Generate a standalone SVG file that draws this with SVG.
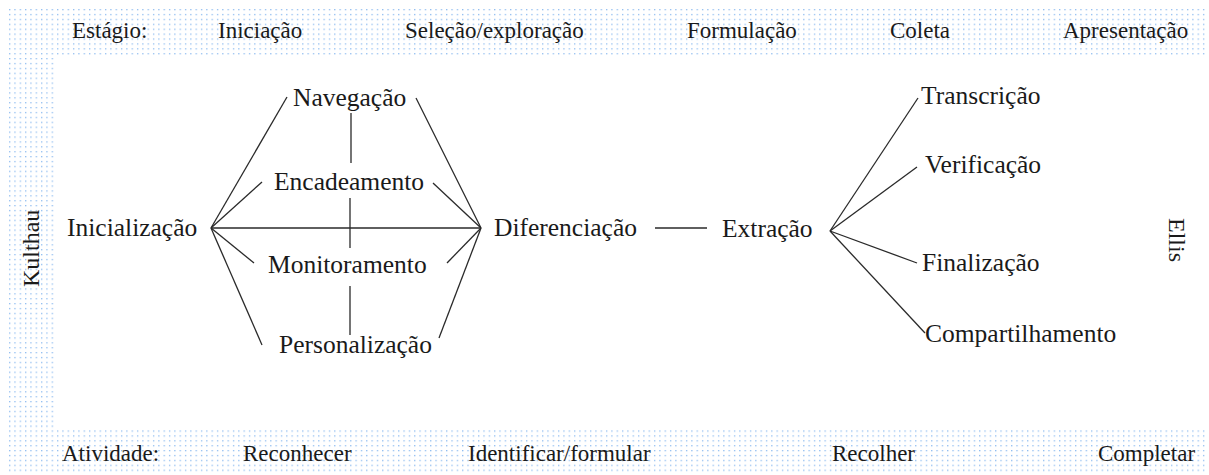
<svg xmlns="http://www.w3.org/2000/svg" width="1209" height="475" viewBox="0 0 1209 475">
<style>
.band{fill:url(#dots)}
.hdr{font-family:"Liberation Serif","Times New Roman",serif;font-size:23px;fill:#1a1a1a}
.lbl{font-family:"Liberation Serif","Times New Roman",serif;font-size:25.5px;fill:#1a1a1a}
.side{font-family:"Liberation Serif","Times New Roman",serif;font-size:24px;fill:#1a1a1a}
.con line{stroke:#2a2a2a;stroke-width:1.3;fill:none}
</style>
<defs>
<pattern id="dots" x="9" y="9" width="5.33" height="4.9" patternUnits="userSpaceOnUse">
<rect x="0" y="0" width="1.3" height="1.3" fill="#5fa0ea" opacity="0.7"/>
</pattern>
</defs>
<rect width="1209" height="475" fill="#ffffff"/>
<g id="frame">
<rect class="band" x="7" y="7" width="1201" height="48"/>
<rect class="band" x="7" y="55" width="47" height="375"/>
<rect class="band" x="7" y="430" width="1201" height="42"/>
</g>
<g id="stage-row">
<text class="hdr" x="72" y="38">Estágio:</text>
<text class="hdr" x="218" y="38">Iniciação</text>
<text class="hdr" x="405" y="38">Seleção/exploração</text>
<text class="hdr" x="687" y="38">Formulação</text>
<text class="hdr" x="890" y="38">Coleta</text>
<text class="hdr" x="1063" y="38">Apresentação</text>
</g>
<g id="activity-row">
<text class="hdr" x="62" y="461">Atividade:</text>
<text class="hdr" x="243" y="461">Reconhecer</text>
<text class="hdr" x="468" y="461">Identificar/formular</text>
<text class="hdr" x="832" y="461">Recolher</text>
<text class="hdr" x="1098" y="461">Completar</text>
</g>
<g id="kulthau"><text class="side" transform="translate(39 287) rotate(-90)">Kulthau</text></g>
<g id="ellis"><text class="side" transform="translate(1169 218) rotate(90)">Ellis</text></g>
<g id="connectors" class="con">
<line x1="211" y1="228" x2="287" y2="97"/>
<line x1="211" y1="228" x2="262" y2="182"/>
<line x1="211" y1="228" x2="254" y2="263"/>
<line x1="211" y1="228" x2="262" y2="345"/>
<line x1="211" y1="228" x2="481" y2="228"/>
<line x1="416" y1="98" x2="481" y2="228"/>
<line x1="433" y1="183" x2="481" y2="228"/>
<line x1="447" y1="263" x2="481" y2="228"/>
<line x1="439" y1="338" x2="481" y2="228"/>
<line x1="351" y1="113" x2="351" y2="163"/>
<line x1="350" y1="198" x2="350" y2="248"/>
<line x1="350" y1="286" x2="350" y2="335"/>
<line x1="655" y1="228" x2="707" y2="228"/>
<line x1="830" y1="231" x2="918" y2="98"/>
<line x1="830" y1="231" x2="917" y2="167"/>
<line x1="830" y1="231" x2="917" y2="263"/>
<line x1="830" y1="231" x2="925" y2="333"/>
</g>
<g id="n-inicializacao"><text class="lbl" x="67" y="236">Inicialização</text></g>
<g id="n-navegacao"><text class="lbl" x="293" y="106">Navegação</text></g>
<g id="n-encadeamento"><text class="lbl" x="274" y="190">Encadeamento</text></g>
<g id="n-monitoramento"><text class="lbl" x="268" y="273">Monitoramento</text></g>
<g id="n-personalizacao"><text class="lbl" x="279" y="353">Personalização</text></g>
<g id="n-diferenciacao"><text class="lbl" x="494" y="236">Diferenciação</text></g>
<g id="n-extracao"><text class="lbl" x="722" y="237">Extração</text></g>
<g id="n-transcricao"><text class="lbl" x="921" y="104">Transcrição</text></g>
<g id="n-verificacao"><text class="lbl" x="925" y="173">Verificação</text></g>
<g id="n-finalizacao"><text class="lbl" x="922" y="271">Finalização</text></g>
<g id="n-compartilhamento"><text class="lbl" x="925" y="342">Compartilhamento</text></g>
</svg>
